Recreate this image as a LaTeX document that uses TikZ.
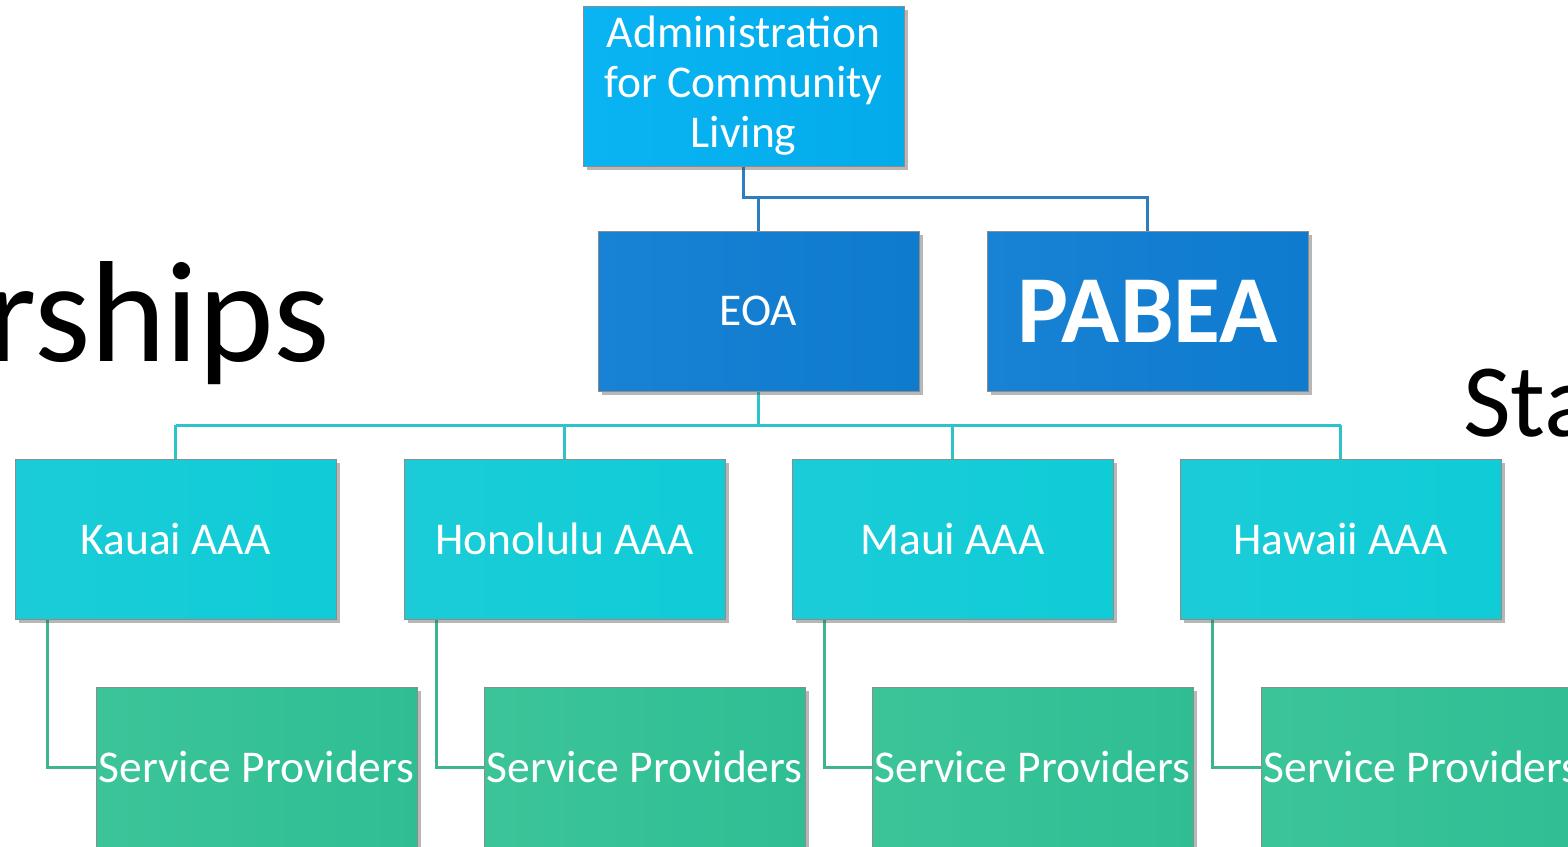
\documentclass[tikz,border=0pt]{standalone}
\usepackage{fontspec}
\setmainfont{Carlito}
\usetikzlibrary{shadows,backgrounds}
\definecolor{aclA}{HTML}{0AB4F2}
\definecolor{aclB}{HTML}{03ABEA}
\definecolor{eoaA}{HTML}{1882D4}
\definecolor{eoaB}{HTML}{0F7BCE}
\definecolor{aaaA}{HTML}{1BCCD8}
\definecolor{aaaB}{HTML}{0FCCD6}
\definecolor{spA}{HTML}{3CC499}
\definecolor{spB}{HTML}{2FBE94}
\definecolor{lineblue}{HTML}{2E7DBE}
\definecolor{lineteal}{HTML}{2EC3CA}
\definecolor{linegreen}{HTML}{3DB58F}
\tikzset{
  box/.style={anchor=north west, minimum width=321pt, minimum height=160pt,
    inner sep=0pt, outer sep=0pt, draw=black!45, line width=0.7pt,
    text=white, align=center, font=\fontsize{45.5}{50}\selectfont,
    drop shadow={shadow xshift=4pt, shadow yshift=-4pt, opacity=0.4, fill=black!70}},
  aclbox/.style={box, left color=aclA, right color=aclB},
  eoabox/.style={box, left color=eoaA, right color=eoaB},
  aaabox/.style={box, left color=aaaA, right color=aaaB},
  spbox/.style={box, left color=spA, right color=spB},
  conblue/.style={draw=lineblue, line width=3pt},
  conteal/.style={draw=lineteal, line width=3pt},
  congreen/.style={draw=linegreen, line width=3pt},
}
\begin{document}
\begin{tikzpicture}[x=1pt, y=-1pt]
\useasboundingbox (0,0) rectangle (1568,846);
\clip (0,0) rectangle (1568,846);
% background title fragments
\node[anchor=base west, inner sep=0pt, font=\fontsize{144}{144}\selectfont] (title1) at (-14,361) {rships};
\node[anchor=base west, inner sep=0pt, font=\fontsize{104}{104}\selectfont] (title2) at (1463,436) {Sta};
% boxes
\node[aclbox] (acl) at (583,6) {Administration\\for Community\\Living};
\node[eoabox] (eoa) at (598,231) {EOA};
\node[eoabox, font=\fontsize{96}{100}\selectfont\bfseries] (pabea) at (987,231) {PABEA};
\node[aaabox] (kauai) at (15,459) {Kauai AAA};
\node[aaabox] (honolulu) at (404,459) {Honolulu AAA};
\node[aaabox] (maui) at (792,459) {Maui AAA};
\node[aaabox] (hawaii) at (1180,459) {Hawaii AAA};
\node[spbox] (sp1) at (96,687) {Service Providers};
\node[spbox] (sp2) at (484,687) {Service Providers};
\node[spbox] (sp3) at (872,687) {Service Providers};
\node[spbox] (sp4) at (1261,687) {Service Providers};
% connectors
\begin{scope}[on background layer]
\fill[white] (0,0) rectangle (1568,846);
\draw[conblue] (acl.south) -- ++(0,31) coordinate (j1) -| (pabea.north);
\draw[conblue] (eoa.north |- j1) -- (eoa.north);
\draw[conteal] (eoa.south) -- ++(0,34) coordinate (j2);
\draw[conteal] (kauai.north |- j2) -- (hawaii.north |- j2);
\foreach \n in {kauai,honolulu,maui,hawaii}{
  \draw[conteal] (\n.north |- j2) -- (\n.north);
}
\draw[congreen] ([xshift=32pt]kauai.south west) |- (sp1.west);
\draw[congreen] ([xshift=32pt]honolulu.south west) |- (sp2.west);
\draw[congreen] ([xshift=32pt]maui.south west) |- (sp3.west);
\draw[congreen] ([xshift=32pt]hawaii.south west) |- (sp4.west);
\end{scope}
\end{tikzpicture}
\end{document}
